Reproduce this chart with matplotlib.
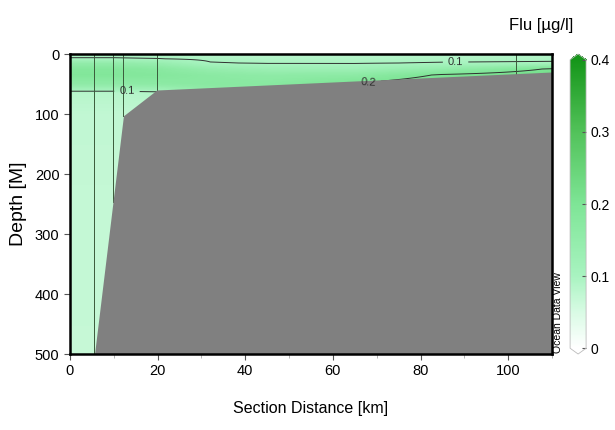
import numpy as np
import matplotlib
matplotlib.use("Agg")
import matplotlib.pyplot as plt
from matplotlib.colors import LinearSegmentedColormap

plt.rcParams['font.family'] = ['Liberation Sans Narrow', 'Liberation Sans', 'DejaVu Sans']

# section grid: distance along track [km] and depth [m]
grid_km = [0, 10, 20, 32, 45, 65, 85, 110]
grid_depth = [0, 8, 15, 25, 35, 50, 65, 100, 200, 500]

# fluorescence [ug/l], one column per grid_km position (top to bottom)
flu_0 = [0.090, 0.103, 0.150, 0.185, 0.190, 0.160, 0.085, 0.075, 0.072, 0.070]
flu_10 = [0.090, 0.103, 0.150, 0.185, 0.190, 0.160, 0.085, 0.075, 0.072, 0.070]
flu_20 = [0.088, 0.101, 0.140, 0.175, 0.185, 0.165, 0.090, 0.075, 0.072, 0.070]
flu_32 = [0.083, 0.094, 0.102, 0.145, 0.170, 0.175, 0.150, 0.150, 0.150, 0.150]
flu_45 = [0.080, 0.090, 0.098, 0.130, 0.160, 0.175, 0.170, 0.160, 0.160, 0.160]
flu_65 = [0.082, 0.090, 0.098, 0.125, 0.165, 0.205, 0.210, 0.200, 0.200, 0.200]
flu_85 = [0.085, 0.092, 0.102, 0.150, 0.205, 0.225, 0.225, 0.220, 0.220, 0.220]
flu_110 = [0.085, 0.094, 0.104, 0.205, 0.225, 0.230, 0.230, 0.230, 0.230, 0.230]

# sea floor along the section
bath_km = [5.6, 12.2, 19.8, 110]
bath_depth = [500, 103, 60, 30]

# CTD stations
station_km = [5.5, 9.8, 12.2, 19.8, 101.8]

flu = np.array([flu_0, flu_10, flu_20, flu_32, flu_45, flu_65, flu_85, flu_110]).T

# bilinear refinement for a smooth section
fine_km = np.linspace(0, 110, 441)
fine_z = np.linspace(0, 500, 1001)
cols = np.array([np.interp(fine_z, grid_depth, flu[:, j]) for j in range(len(grid_km))]).T
field = np.array([np.interp(fine_km, grid_km, row) for row in cols])

cmap = LinearSegmentedColormap.from_list(
    "flu", [(0.0, "#ffffff"), (0.125, "#d8fbe4"), (0.25, "#a8f3c0"),
            (0.5, "#7ee596"), (0.75, "#52c25a"), (1.0, "#16961a")])

fig = plt.figure(figsize=(6.15, 4.3), dpi=100)
ax = fig.add_axes([0.1138, 0.1767, 0.7837, 0.6977])

mesh = ax.pcolormesh(fine_km, fine_z, field, cmap=cmap, vmin=0, vmax=0.4,
                     shading="auto", rasterized=True)
cs = ax.contour(fine_km, fine_z, field, levels=[0.1, 0.2], colors="#303030",
                linewidths=0.7)
ax.clabel(cs, fmt="%.1f", fontsize=8, inline=True,
          manual=[(13, 62), (88, 12), (68, 42)])

ax.fill_between(bath_km, bath_depth, 500, color="#808080", lw=0, zorder=3)

for s in station_km:
    bottom = np.interp(s, bath_km, bath_depth)
    ax.plot([s, s], [0, bottom], color="#3a5a3a", lw=0.7, zorder=2)

ax.set_xlim(0, 110)
ax.set_ylim(500, 0)
ax.set_xticks([0, 20, 40, 60, 80, 100])
ax.set_xticks([10, 30, 50, 70, 90, 110], minor=True)
ax.set_yticks([0, 100, 200, 300, 400, 500])
ax.tick_params(axis="both", which="major", labelsize=10.5, length=4,
               color="#555555", direction="out")
ax.tick_params(axis="x", which="minor", length=3, color="#aaaaaa")
for side in ax.spines.values():
    side.set_linewidth(1.8)
    side.set_zorder(5)

ax.set_xlabel("Section Distance [km]", fontsize=11.5, labelpad=16)
ax.set_ylabel("Depth [M]", fontsize=14, family=['Liberation Sans', 'DejaVu Sans'],
              labelpad=6)

cax = fig.add_axes([0.927, 0.1767, 0.026, 0.6977])
cb = fig.colorbar(mesh, cax=cax, extend="both", extendfrac=0.02,
                  ticks=[0, 0.1, 0.2, 0.3, 0.4])
cb.ax.set_yticklabels(["0", "0.1", "0.2", "0.3", "0.4"])
cb.outline.set_edgecolor("#bbbbbb")
cb.outline.set_linewidth(0.6)
cb.ax.tick_params(labelsize=10, length=3, color="#555555", direction="in")

fig.text(0.88, 0.94, "Flu [µg/l]", fontsize=12, ha="center", va="center")
fig.text(0.907, 0.18, "Ocean Data View", fontsize=7.5, rotation=90,
         ha="center", va="bottom", family=['Liberation Sans', 'DejaVu Sans'])

fig.savefig("out.png", dpi=100)
